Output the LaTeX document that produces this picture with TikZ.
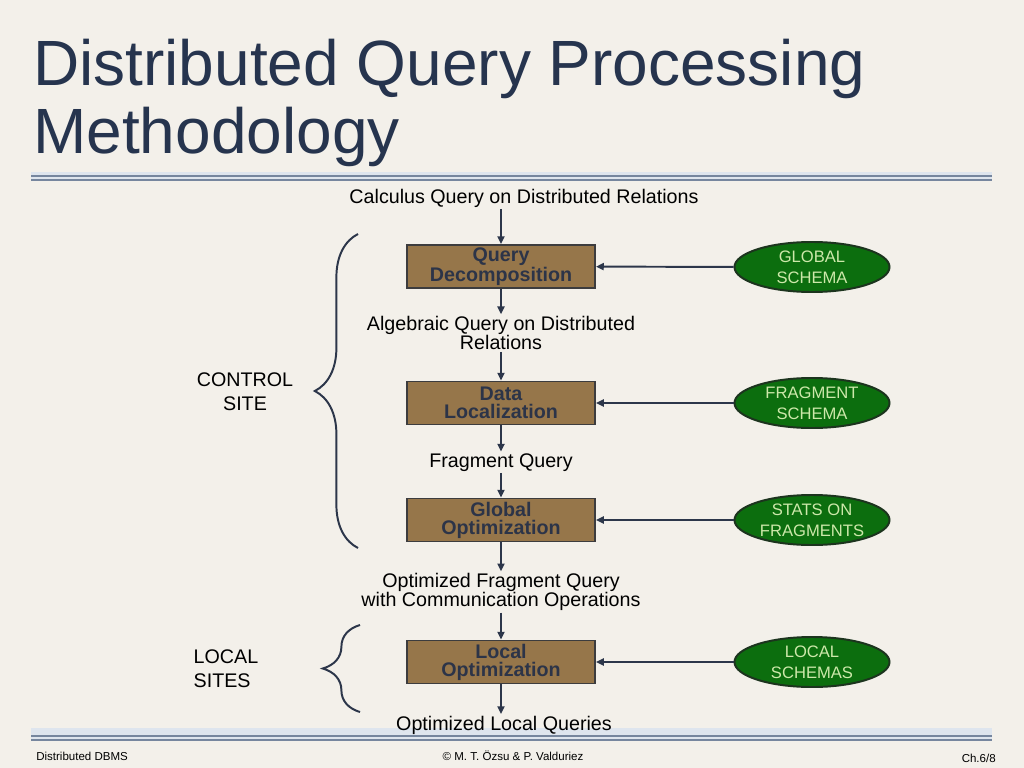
\documentclass[tikz,border=0pt]{standalone}
\usepackage{fontspec}
\setmainfont{Liberation Sans}
\usetikzlibrary{arrows.meta,shapes.geometric,decorations.pathreplacing}

\definecolor{bgcol}{RGB}{243,240,234}
\definecolor{titlecol}{RGB}{38,52,78}
\definecolor{boxfill}{RGB}{150,118,74}
\definecolor{boxline}{RGB}{60,60,62}
\definecolor{boxtext}{RGB}{44,52,72}
\definecolor{schemafill}{RGB}{12,110,14}
\definecolor{schemaline}{RGB}{28,52,30}
\definecolor{schematext}{RGB}{205,232,170}
\definecolor{arrowcol}{RGB}{44,54,74}
\definecolor{rulecol}{RGB}{118,134,158}
\definecolor{bandcol}{RGB}{222,229,238}

\begin{document}
\begin{tikzpicture}[x=0.025cm,y=-0.025cm,
  procbox/.style={draw=boxline,line width=1.4pt,fill=boxfill,minimum width=4.7cm,
    minimum height=1.075cm,align=center,inner sep=0pt,text=boxtext,
    font=\bfseries\fontsize{14}{12.8}\selectfont},
  schema/.style={ellipse,draw=schemaline,line width=1.4pt,fill=schemafill,
    minimum width=3.875cm,minimum height=1.25cm,align=center,inner sep=0pt,
    text=schematext,font=\fontsize{11.8}{14.8}\selectfont},
  qtext/.style={align=center,inner sep=1pt,font=\fontsize{14}{12.8}\selectfont},
  site/.style={inner sep=0pt,font=\fontsize{14}{17}\selectfont},
  flow/.style={draw=arrowcol,line width=1.4pt,-{Triangle[length=5.5pt,width=5pt]}},
  curly/.style={draw=arrowcol,line width=1.4pt,decorate,decoration={brace,amplitude=#1}},
  footer/.style={inner sep=0pt,font=\fontsize{8.2}{10}\selectfont}]
	\fill[bgcol] (0,0) rectangle (1024,768);
	\useasboundingbox (0,0) rectangle (1024,768);
	\node[anchor=north west,inner sep=0pt,align=left,text=titlecol,
	  font=\fontsize{45.5}{48.3}\selectfont] (title) at (33,39)
	  {Distributed Query Processing\\Methodology};
	\fill[bandcol] (31,172) rectangle (992,181);
	\draw[rulecol,line width=1.5pt] (31,176) -- (992,176) (31,180) -- (992,180);
	\fill[bandcol] (31,728) rectangle (992,741);
	\draw[rulecol,line width=1.5pt] (31,736) -- (992,736) (31,740) -- (992,740);
	\node[qtext,anchor=base] (calc) at (524,203) {Calculus Query on Distributed Relations};
	\node[procbox] (qd) at (501,266.5) {Query\\Decomposition};
	\node[qtext] (alg) at (501,333) {Algebraic Query on Distributed\\Relations};
	\node[procbox] (dl) at (501,403) {Data\\Localization};
	\node[qtext,anchor=base] (fq) at (501,467) {Fragment Query};
	\node[procbox] (go) at (501,520) {Global\\Optimization};
	\node[qtext] (ofq) at (501,592) {Optimized Fragment Query\\with Communication Operations};
	\node[procbox] (lo) at (501,662) {Local\\Optimization};
	\node[qtext,anchor=base] (olq) at (504,730) {Optimized Local Queries};
	\node[schema] (gs) at (812,267) {GLOBAL\\SCHEMA};
	\node[schema] (fs) at (812,403) {FRAGMENT\\SCHEMA};
	\node[schema] (sf) at (812,520) {STATS ON\\FRAGMENTS};
	\node[schema] (ls) at (812,662) {LOCAL\\SCHEMAS};
	\draw[flow] (calc.south -| qd.north) -- (qd.north);
	\draw[flow] (qd.south) -- (alg.north);
	\draw[flow] (alg.south) -- (dl.north);
	\draw[flow] (dl.south) -- (fq.north);
	\draw[flow] (fq.south) -- (go.north);
	\draw[flow] (go.south) -- (ofq.north);
	\draw[flow] (ofq.south) -- (lo.north);
	\draw[flow] (lo.south) -- (olq.north -| lo.south);
	\draw[flow] (gs) -- (qd);
	\draw[flow] (fs) -- (dl);
	\draw[flow] (sf) -- (go);
	\draw[flow] (ls) -- (lo);
	\node[site,align=center] (control) at (245,392) {CONTROL\\SITE};
	\node[site,align=left] (local) at (226,669) {LOCAL\\SITES};
	\coordinate (cb1) at (358,548);
	\coordinate (cb2) at (358,234);
	\coordinate (lb1) at (360,712);
	\coordinate (lb2) at (360,625);
	\draw[curly=1.08cm] (cb1) -- (cb2);
	\draw[curly=0.93cm] (lb1) -- (lb2);
	\node[footer,anchor=base west] (dbms) at (36,760) {Distributed DBMS};
	\node[footer,anchor=base] (authors) at (513,760) {© M. T. Özsu \& P. Valduriez};
	\node[footer,anchor=base east] (chapter) at (996,762) {Ch.6/8};
\end{tikzpicture}
\end{document}
